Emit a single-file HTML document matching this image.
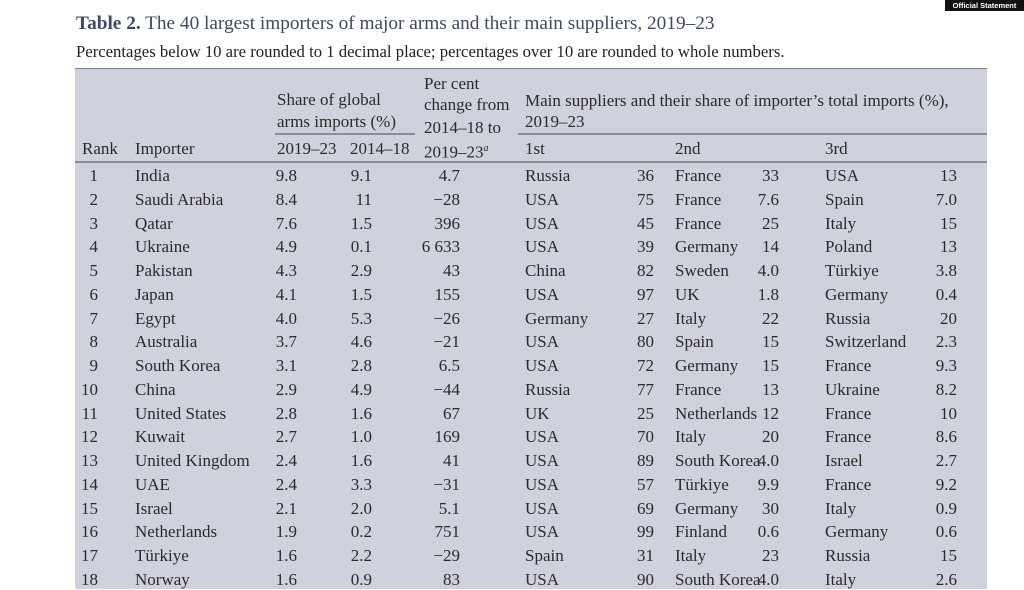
<!DOCTYPE html>
<html><head><meta charset="utf-8"><style>
body{margin:0;width:1024px;height:576px;overflow:hidden;background:#fff;font-family:"Liberation Serif",serif;color:#2a2a2a;position:relative}
.a{position:absolute;white-space:nowrap;line-height:20px;font-size:17px}
.r{text-align:right}
#tbl{position:absolute;left:75px;top:68px;width:912px;height:520px;background:#cfd2dc;border-top:1.5px solid #7d8190}
.ln{position:absolute;height:1.5px;background:#8a8e9c}
</style></head><body>
<div class="a" style="left:76px;top:13px;font-size:19.3px;line-height:22px;color:#3d4a62"><b>Table 2.</b> The 40 largest importers of major arms and their main suppliers, 2019–23</div>
<div class="a" style="left:76px;top:42px;font-size:16.7px;color:#222">Percentages below 10 are rounded to 1 decimal place; percentages over 10 are rounded to whole numbers.</div>
<div style="position:absolute;left:945px;top:0;width:79px;height:11px;background:#111;color:#fff;font:bold 7.5px 'Liberation Sans',sans-serif;line-height:11px;text-align:center">Official Statement</div>
<div id="tbl"></div>
<div class="ln" style="left:275px;top:133px;width:140px"></div>
<div class="ln" style="left:518px;top:133px;width:469px"></div>
<div class="ln" style="left:75px;top:161px;width:912px"></div>
<div class="a" style="left:277px;top:90px">Share of global</div>
<div class="a" style="left:277px;top:112px">arms imports (%)</div>
<div class="a" style="left:424px;top:74px">Per cent</div>
<div class="a" style="left:424px;top:95px">change from</div>
<div class="a" style="left:424px;top:118px">2014–18 to</div>
<div class="a" style="left:525px;top:91px">Main suppliers and their share of importer’s total imports (%),</div>
<div class="a" style="left:525px;top:112px">2019–23</div>
<div class="a" style="left:82px;top:139px">Rank</div>
<div class="a" style="left:135px;top:139px">Importer</div>
<div class="a" style="left:277px;top:139px">2019–23</div>
<div class="a" style="left:350px;top:139px">2014–18</div>
<div class="a" style="left:424px;top:139px">2019–23<sup style="font-size:10px;font-style:italic">a</sup></div>
<div class="a" style="left:525px;top:139px">1st</div>
<div class="a" style="left:675px;top:139px">2nd</div>
<div class="a" style="left:825px;top:139px">3rd</div>
<div id="rows"></div>
<script>
const d=[
[1,"India","9.8","9.1","4.7","Russia",36,"France",33,"USA",13],
[2,"Saudi Arabia","8.4","11","−28","USA",75,"France","7.6","Spain","7.0"],
[3,"Qatar","7.6","1.5","396","USA",45,"France",25,"Italy",15],
[4,"Ukraine","4.9","0.1","6 633","USA",39,"Germany",14,"Poland",13],
[5,"Pakistan","4.3","2.9","43","China",82,"Sweden","4.0","Türkiye","3.8"],
[6,"Japan","4.1","1.5","155","USA",97,"UK","1.8","Germany","0.4"],
[7,"Egypt","4.0","5.3","−26","Germany",27,"Italy",22,"Russia",20],
[8,"Australia","3.7","4.6","−21","USA",80,"Spain",15,"Switzerland","2.3"],
[9,"South Korea","3.1","2.8","6.5","USA",72,"Germany",15,"France","9.3"],
[10,"China","2.9","4.9","−44","Russia",77,"France",13,"Ukraine","8.2"],
[11,"United States","2.8","1.6","67","UK",25,"Netherlands",12,"France",10],
[12,"Kuwait","2.7","1.0","169","USA",70,"Italy",20,"France","8.6"],
[13,"United Kingdom","2.4","1.6","41","USA",89,"South Korea","4.0","Israel","2.7"],
[14,"UAE","2.4","3.3","−31","USA",57,"Türkiye","9.9","France","9.2"],
[15,"Israel","2.1","2.0","5.1","USA",69,"Germany",30,"Italy","0.9"],
[16,"Netherlands","1.9","0.2","751","USA",99,"Finland","0.6","Germany","0.6"],
[17,"Türkiye","1.6","2.2","−29","Spain",31,"Italy",23,"Russia",15],
[18,"Norway","1.6","0.9","83","USA",90,"South Korea","4.0","Italy","2.6"]];
let h="";
d.forEach((r,i)=>{const t=166+23.75*i;
const c=(x,v,al)=>`<div class="a${al?' r':''}" style="${al?'right:'+(1024-x):'left:'+x}px;top:${t}px">${v}</div>`;
h+=c(98,r[0],1)+c(135,r[1])+c(297,r[2],1)+c(372,r[3],1)+c(460,r[4],1)+c(525,r[5])+c(654,r[6],1)+c(675,r[7])+c(779,r[8],1)+c(825,r[9])+c(957,r[10],1);});
document.getElementById("rows").innerHTML=h;
</script>
</body></html>
